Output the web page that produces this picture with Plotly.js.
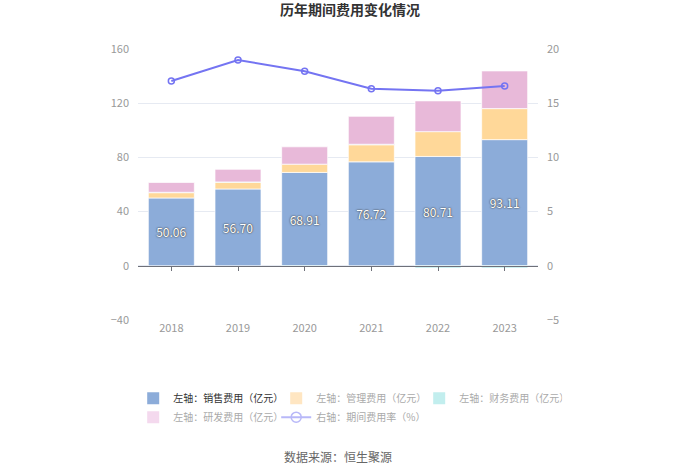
<!DOCTYPE html>
<html><head><meta charset="utf-8">
<script src="https://cdn.plot.ly/plotly-3.0.1.min.js"></script>
<style>body{margin:0;background:#fff}#c{width:700px;height:474px}</style>
</head><body><div id="c"></div>
<script>
var years = ['2018','2019','2020','2021','2022','2023'];
var sales = [50.06, 56.70, 68.91, 76.72, 80.71, 93.11];
var admin = [3.9, 5.0, 6.1, 12.6, 18.3, 22.9];
var finance = [0.3, 0.2, -0.8, 0.4, -1.5, -1.5];
var rnd = [7.2, 9.3, 12.8, 20.6, 22.7, 27.8];
var rate = [17.05, 18.99, 17.94, 16.34, 16.16, 16.59];

var FONT = '"Noto Sans CJK SC", "Noto Sans", sans-serif';
var outline = {color:'rgba(255,255,255,0.7)', width:1};
var traces = [
 {type:'bar', x:years, y:sales, name:'左轴：销售费用（亿元）', marker:{color:'#8cacd9', line:outline},
  text:sales.map(function(v){return v.toFixed(2);}), textposition:'inside', insidetextanchor:'middle',
  textfont:{color:'#fff', size:12, family:FONT, shadow:'0px 0px 2px #444, 0px 0px 1px #444'},
  hoverinfo:'skip', showlegend:false},
 {type:'bar', x:years, y:admin, name:'左轴：管理费用（亿元）', marker:{color:'#ffd899', line:outline}, showlegend:false},
 {type:'bar', x:years, y:finance, name:'左轴：财务费用（亿元）', marker:{color:'#84dcdc', line:outline}, showlegend:false},
 {type:'bar', x:years, y:rnd, name:'左轴：研发费用（亿元）', marker:{color:'#e8b9d9', line:outline}, showlegend:false},
 {type:'scatter', mode:'lines+markers', x:years, y:rate, xaxis:'x2', yaxis:'y2', name:'右轴：期间费用率（%）',
  line:{color:'#7474f2', width:2}, marker:{symbol:'circle-open', size:6, color:'#7474f2', line:{width:1.5}}, showlegend:false}
];
// legend-only entries
var legendItems = [
 {name:'左轴：销售费用（亿元）', color:'#8cacd9', txt:'#333'},
 {name:'左轴：管理费用（亿元）', color:'#ffe6c2', txt:'#aaa'},
 {name:'左轴：财务费用（亿元）', color:'#c2eeee', txt:'#aaa'},
 {name:'左轴：研发费用（亿元）', color:'#f4d9ee', txt:'#aaa'}
];
legendItems.forEach(function(it){
 traces.push({type:'bar', x:[null], y:[null], name:'<span style="color:'+it.txt+'">'+it.name+'</span>', marker:{color:it.color}, showlegend:true, hoverinfo:'skip'});
});
traces.push({type:'scatter', mode:'lines+markers', x:[null], y:[null], name:'<span style="color:#aaa">右轴：期间费用率（%）</span>',
  line:{color:'#b8b8f8', width:2}, marker:{symbol:'circle-open', size:10, color:'#b8b8f8', line:{width:1.5}}, showlegend:true, hoverinfo:'skip'});

var layout = {
 width:700, height:474, paper_bgcolor:'#fff', plot_bgcolor:'#fff',
 margin:{l:138, r:162, t:49, b:154},
 font:{family:FONT, color:'#999', size:11},
 title:{text:'<b>历年期间费用变化情况</b>', x:0.5, xanchor:'center', y:0.99, yanchor:'top', font:{size:14, color:'#333', family:FONT}},
 barmode:'relative', bargap:0.31,
 xaxis:{type:'category', showgrid:false, zeroline:false, showline:false, ticks:'', tickfont:{size:11,color:'#999'}, fixedrange:true},
 xaxis2:{type:'category', matches:'x', overlaying:'x', anchor:'free', position:0.2, side:'bottom', showticklabels:false,
   showline:true, linecolor:'#6e7079', linewidth:1, ticks:'outside', ticklen:4, tickcolor:'#6e7079', showgrid:false, zeroline:false},
 yaxis:{range:[-40,160], dtick:40, showgrid:true, gridcolor:'#e6eaf2', zeroline:false, showline:false, ticks:'', tickfont:{size:11,color:'#999'}, ticklabelstandoff:8},
 yaxis2:{range:[-5,20], dtick:5, overlaying:'y', side:'right', showgrid:false, zeroline:false, showline:false, ticks:'', tickfont:{size:11,color:'#999'}, ticklabelstandoff:8},
 legend:{orientation:'h', x:-0.012, xanchor:'left', y:-0.235, yanchor:'top', font:{size:10, color:'#aaa', family:FONT}, entrywidth:98, itemwidth:30, traceorder:'normal', bgcolor:'rgba(0,0,0,0)', tracegroupgap:0},
 annotations:[{text:'数据来源：恒生聚源', xref:'paper', yref:'paper', x:0.5, y:-0.505, xanchor:'center', yanchor:'middle', showarrow:false, font:{size:12, color:'#666', family:FONT}}]
};
Plotly.newPlot('c', traces, layout, {displayModeBar:false, staticPlot:true});
</script></body></html>
